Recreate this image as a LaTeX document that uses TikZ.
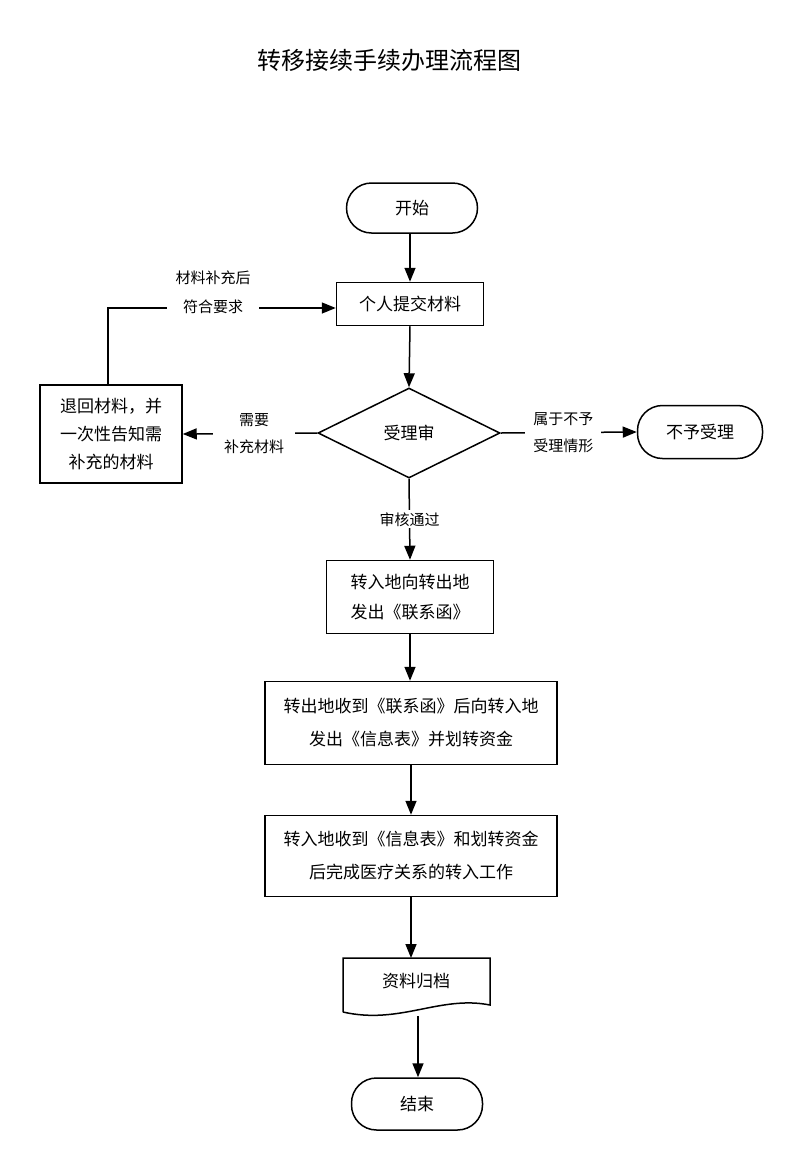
\documentclass[tikz,border=0pt]{standalone}
\usepackage{fontspec}
\setmainfont{Noto Sans CJK SC}
\usetikzlibrary{arrows.meta,shapes.geometric}
\begin{document}
\begin{tikzpicture}[x=1pt,y=-1pt,
  line width=1.5pt,
  every node/.style={font=\fontsize{17}{22}\selectfont, inner sep=0pt},
  proc/.style={draw, rectangle, align=center},
  term/.style={draw, rounded corners=25pt, align=center},
  lbl/.style={font=\fontsize{15}{27}\selectfont, align=center, fill=white, inner sep=2pt},
  arr/.style={-{Triangle[length=14pt,width=11pt]}}
]
\useasboundingbox (0,0) rectangle (800,1160);
\node (title) at (389,60) {\fontsize{24}{26}\selectfont 转移接续手续办理流程图};

\node[term, minimum width=131pt, minimum height=50pt] (start) at (412,208) {开始};
\node[proc, minimum width=147pt, minimum height=43pt] (submit) at (410,304) {个人提交材料};
\node[draw, diamond, aspect=2.02, minimum width=182pt, minimum height=90pt, inner sep=0pt] (rev) at (409,433) {};
\node at (409,433) {受理审};
\node[proc, minimum width=142pt, minimum height=98pt, font=\fontsize{17}{28}\selectfont] (ret) at (111,434) {退回材料，并\\一次性告知需\\补充的材料};
\node[term, minimum width=125pt, minimum height=53pt] (rej) at (700,432) {不予受理};
\node[proc, minimum width=167pt, minimum height=73pt, font=\fontsize{17}{30}\selectfont] (b1) at (410,597) {转入地向转出地\\发出《联系函》};
\node[proc, minimum width=292pt, minimum height=83pt, font=\fontsize{17}{33}\selectfont] (b2) at (411,723) {转出地收到《联系函》后向转入地\\发出《信息表》并划转资金};
\node[proc, minimum width=292pt, minimum height=81pt, font=\fontsize{17}{33}\selectfont] (b3) at (411,856) {转入地收到《信息表》和划转资金\\后完成医疗关系的转入工作};

% document shape
\coordinate (dtl) at (343,958);
\coordinate (dtr) at (490,958);
\coordinate (dbl) at (343,1012);
\coordinate (dbr) at (490,1005);
\draw (dbl) -- (dtl) -- (dtr) -- (dbr) .. controls (440,995) and (400,1025) .. (dbl);
\node (doc) at (416,981) {资料归档};
\coordinate (docb) at (418,1016);

\node[term, minimum width=131pt, minimum height=52pt] (end) at (417,1104) {结束};

% main flow
\draw[arr] (start.south -| 410,0) -- (submit.north);
\draw[arr] (submit.south) -- (rev.north);
\draw[arr] (rev.south) -- node[lbl, pos=0.5] {审核通过} (b1.north);
\draw[arr] (b1.south) -- (b2.north -| b1.south);
\draw[arr] (b2.south) -- (b3.north);
\draw[arr] (b3.south) -- (b3.south |- dtl);
\draw[arr] (docb) -- (end.north -| docb);

% left branch
\draw[arr] (rev.west) -- node[lbl, pos=0.47, text width=78pt] {需要\\补充材料} (ret.east);
\coordinate (lc) at (108,308);
\draw[arr] (ret.north -| lc) -- (lc) -- (lc -| submit.west);
\node[lbl, fill=white, inner xsep=16pt] (l1b) at (213,307) {符合要求};
\node[lbl] (l1a) at (213,278) {材料补充后};

% right branch
\draw[arr] (rev.east) -- node[lbl, pos=0.46, text width=72pt] {属于不予\\受理情形} (rej.west);
\end{tikzpicture}
\end{document}
